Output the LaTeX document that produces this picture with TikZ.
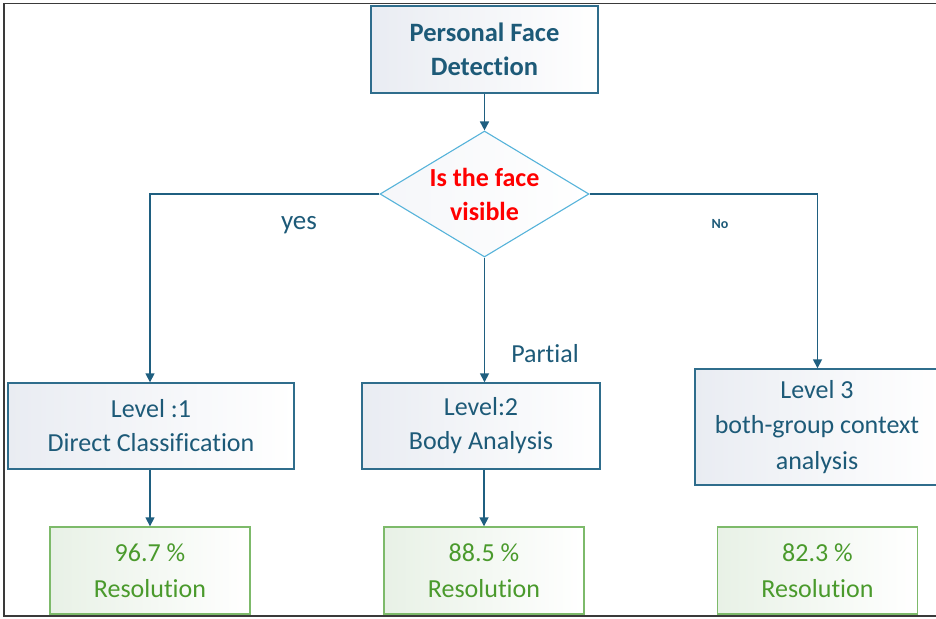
\documentclass[tikz,border=0pt]{standalone}
\usepackage{fontspec}
\setmainfont{Carlito}[Ligatures=NoCommon]
\usetikzlibrary{shapes.geometric,arrows.meta}

\definecolor{inkteal}{HTML}{1D5A78}
\definecolor{edgeteal}{HTML}{2F6D8C}
\definecolor{lineteal}{HTML}{1F5F80}
\definecolor{diamondline}{HTML}{56B3DA}
\definecolor{questionred}{HTML}{FF0000}
\definecolor{resultgreen}{HTML}{4A9A2C}
\definecolor{resultedge}{HTML}{7DBA6A}
\definecolor{boxtint}{HTML}{E9ECF2}
\definecolor{greentint}{HTML}{E8F1E6}
\definecolor{framegray}{HTML}{3A3A3A}

\tikzset{
  stepbox/.style={draw=edgeteal, line width=1.4pt, inner sep=0pt,
    left color=boxtint, right color=white, text=inkteal,
    align=center, font=\fontsize{26}{34}\selectfont},
  titlebox/.style={stepbox, font=\bfseries\fontsize{26.5}{34}\selectfont},
  question/.style={diamond, draw=diamondline, line width=1.1pt, inner sep=0pt,
    left color=boxtint!45, right color=white},
  questiontext/.style={text=questionred, inner sep=0pt,
    align=center, font=\bfseries\fontsize{26}{34}\selectfont},
  resultbox/.style={draw=resultedge, line width=1.4pt, inner sep=0pt,
    left color=greentint, right color=white, text=resultgreen,
    align=center, font=\fontsize{26}{36}\selectfont,
    minimum width=200pt, minimum height=87pt},
  flow/.style={draw=lineteal, line width=1.6pt,
    -{Triangle[length=9pt,width=9pt]}},
  branchlabel/.style={text=inkteal, font=\fontsize{26}{28}\selectfont},
}

\begin{document}
\begin{tikzpicture}[x=1pt,y=-1pt]
\useasboundingbox (0,0) rectangle (936,618);

% outer frame (open on the right)
\draw[framegray, line width=1.4pt] (936,3.5) -- (4,3.5) -- (4,616) -- (936,616);

% decision flow
\node[titlebox, minimum width=227pt, minimum height=87pt] (top) at (484.5,49.5)
  {Personal Face\\Detection};
\node[question, minimum width=209pt, minimum height=126pt] (q) at (484.5,194) {};
\node[questiontext] (qt) at (q.center) {Is the face\\visible};

\node[stepbox, minimum width=286pt, minimum height=86pt] (l1) at (151,426)
  {Level :1\\Direct Classification};
\node[stepbox, minimum width=238pt, minimum height=86pt] (l2) at (481,426)
  {Level:2\\Body Analysis};
\node[stepbox, font=\fontsize{26}{35.5}\selectfont,
  minimum width=244pt, minimum height=116pt] (l3) at (817,427)
  {Level 3\\both-group context\\analysis};

\node[resultbox] (r1) at (150,570.5) {96.7 \%\\Resolution};
\node[resultbox] (r2) at (484,570.5) {88.5 \%\\Resolution};
\node[resultbox] (r3) at (817.5,570.5) {82.3 \%\\Resolution};

% connectors
\draw[flow] (top) -- (q.north);
\draw[flow] (q.west) -| (l1.north -| r1.north);
\draw[flow] (q.south) -- (q.south |- l2.north);
\draw[flow] (q.east) -| (l3.north -| r3.north);
\draw[flow] (l1.south -| r1.north) -- (r1.north);
\draw[flow] (l2.south -| r2.north) -- (r2.north);

% branch labels
\node[branchlabel, font=\fontsize{27}{28}\selectfont] (yes) at (299,225) {yes};
\node[branchlabel] (partial) at (545,354) {Partial};
\node[text=inkteal, font=\bfseries\fontsize{14}{16}\selectfont] (no) at (720,224) {No};
\end{tikzpicture}
\end{document}
